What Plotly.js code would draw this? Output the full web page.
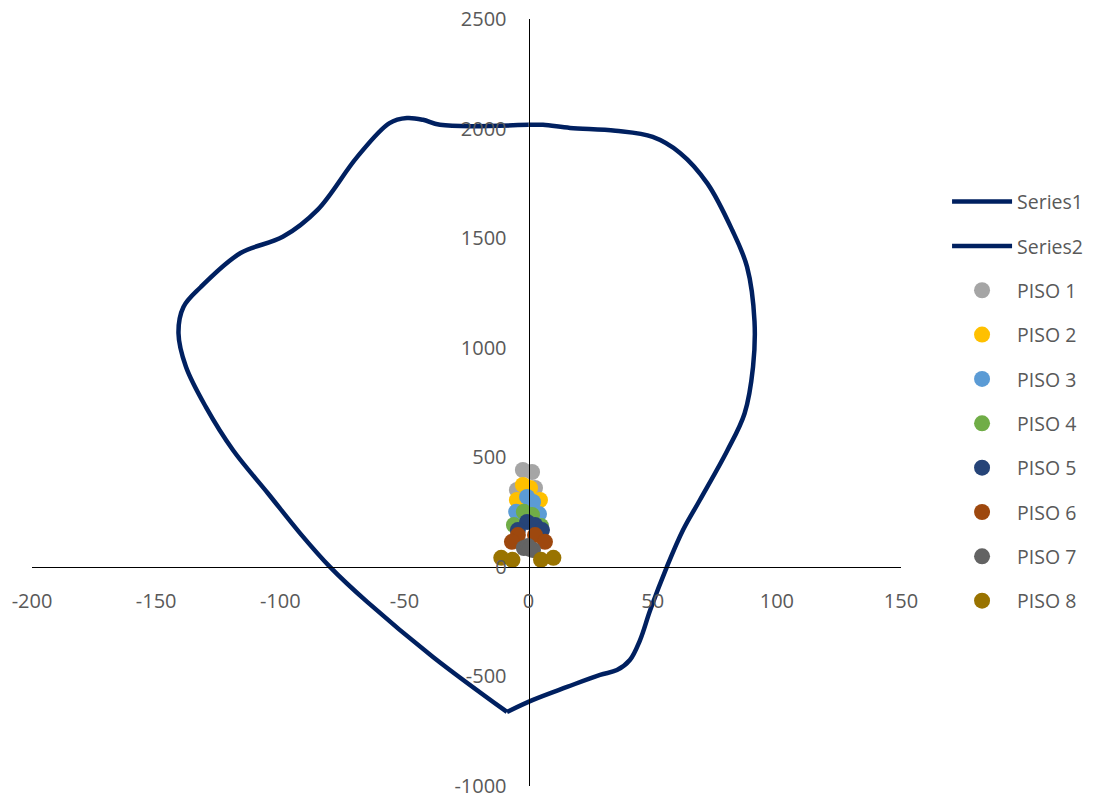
<!DOCTYPE html>
<html>
<head>
<meta charset="utf-8">
<script src="https://cdn.plot.ly/plotly-3.0.1.min.js"></script>
<style>html,body{margin:0;padding:0;background:#fff;}#chart{width:1095px;height:801px;}</style>
</head>
<body>
<div id="chart"></div>
<script>
// Series1: right half of the interaction curve (M, P)
const s1M = [0, 5.8, 16.7, 35, 50, 61, 72, 82, 88, 91, 90.4, 87, 80, 69, 62.2, 55.7, 49, 44.9, 40.8, 35.6, 28.8, 15.5, 1.8, -8.7];
const s1P = [2017, 2017, 2003, 1990, 1962, 1889, 1750, 1537, 1369, 1120, 912, 700, 530, 305, 168, 0, -197, -334, -425, -471, -493, -548, -607, -662];
// Series2: left half
const s2M = [-8.7, -38.5, -65, -80, -92, -105, -119, -130, -138, -141, -139, -132, -116, -99, -85, -69, -56, -49, -42.5, -35.7, 0];
const s2P = [-662, -411, -160, 0, 153, 336, 532, 730, 913, 1066, 1186, 1277, 1432, 1506, 1629, 1871, 2025, 2048, 2040, 2017, 2017];

const pisoNames = ["PISO 1", "PISO 2", "PISO 3", "PISO 4", "PISO 5", "PISO 6", "PISO 7", "PISO 8"];
const pisoM = [
  [-2.3, 1.4, 2.6, -4.7],
  [-2.3, 0.6, -4.7, 4.6],
  [-0.6, 1.8, -5, 4.2],
  [-1.9, 1.4, -5.9, 5],
  [-0.6, 2.6, -4.3, 5.4],
  [-4.3, 2.6, -6.7, 6.6],
  [-1.9, 1.8, -0.2, 0.5],
  [-11, -6.5, 5, 10]
];
const pisoP = [
  [442, 433, 360, 351],
  [374, 360, 305, 305],
  [319, 296, 251, 241],
  [251, 237, 191, 187],
  [205, 191, 168, 168],
  [145, 145, 114, 114],
  [86, 77, 95, 82],
  [41, 32, 32, 41]
];
const pisoColors = ["#A5A5A5", "#FFC000", "#5B9BD5", "#70AD47", "#264478", "#9E480E", "#636363", "#997300"];

const xTicks = [-200, -150, -100, -50, 0, 50, 100, 150];
const yTicks = [-1000, -500, 0, 500, 1000, 1500, 2000, 2500];

const navy = "#002060";
const traces = [
  {x: s1M, y: s1P, name: "Series1", mode: "lines", legendgroup: "g1",
   line: {color: navy, width: 4.5, shape: "spline", smoothing: 1}},
  {x: s2M, y: s2P, name: "Series2", mode: "lines", legendgroup: "g2",
   line: {color: navy, width: 4.5, shape: "spline", smoothing: 1}}
];
pisoNames.forEach((n, i) => {
  traces.push({x: pisoM[i], y: pisoP[i], name: n, mode: "markers", legendgroup: "p" + i,
    marker: {color: pisoColors[i], size: 16}});
});

const font = {family: "Open Sans, Noto Sans, sans-serif", size: 20, color: "#595959"};
const legFont = {family: "Open Sans, Noto Sans, sans-serif", size: 19.5, color: "#595959"};
const layout = {
  width: 1095, height: 801,
  margin: {l: 32, r: 194, t: 19, b: 15, autoexpand: false},
  paper_bgcolor: "#fff", plot_bgcolor: "#fff",
  font: font,
  showlegend: true,
  legend: {x: 1.053, y: 0.787, xanchor: "left", yanchor: "top", traceorder: "grouped",
    tracegroupgap: 16, font: legFont, itemwidth: 60, bgcolor: "rgba(0,0,0,0)"},
  xaxis: {range: [-200, 150], tickvals: xTicks, ticktext: xTicks.map(String),
    showgrid: false, zeroline: false, showline: true, linecolor: "#000", linewidth: 1.5,
    anchor: "free", position: 1000 / 3500, ticks: "", automargin: false,
    ticklabelstandoff: 16, tickfont: font, fixedrange: true},
  yaxis: {range: [-1000, 2500], tickvals: yTicks, ticktext: yTicks.map(String),
    showgrid: false, zeroline: false, showline: true, linecolor: "#000", linewidth: 1.5,
    anchor: "free", position: 200 / 350, ticks: "", automargin: false,
    ticklabelstandoff: 18, tickfont: font, fixedrange: true}
};
Plotly.newPlot("chart", traces, layout, {staticPlot: true});
</script>
</body>
</html>
